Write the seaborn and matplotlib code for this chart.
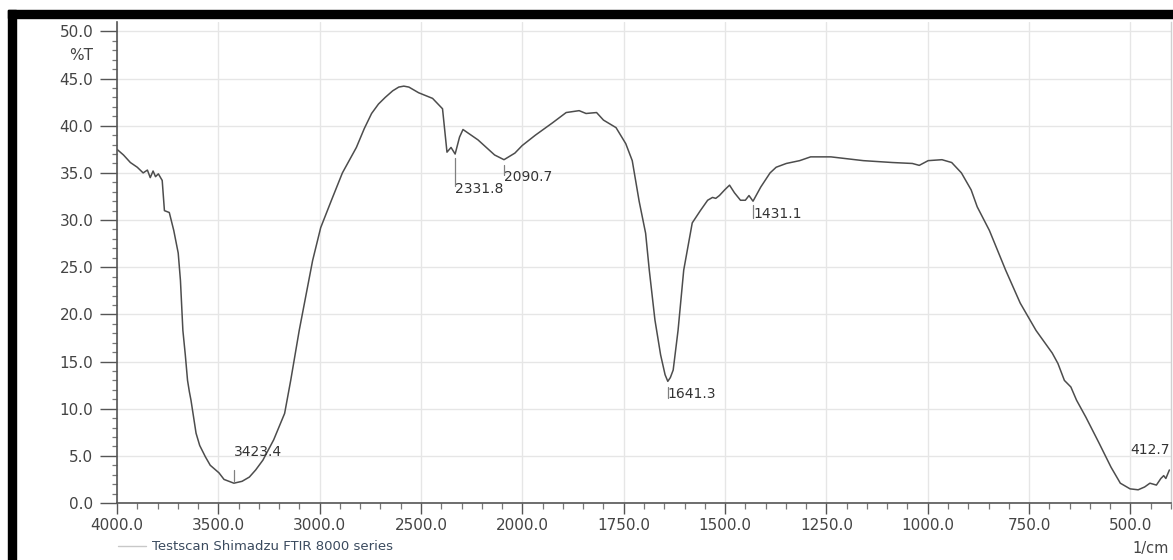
import numpy as np
import pandas as pd
import matplotlib
matplotlib.use("Agg")
import matplotlib.pyplot as plt
from matplotlib.patches import Rectangle
from matplotlib.lines import Line2D
from matplotlib.ticker import FixedLocator
import seaborn as sns

# FTIR spectrum (wavenumber in 1/cm, transmittance in %T)
wavenumber = [
    4000, 3968, 3934, 3900, 3871, 3850, 3836, 3822, 3810, 3796, 3777,
    3766, 3742, 3720, 3698, 3687, 3675, 3663, 3652, 3643, 3635, 3610,
    3592, 3564, 3540, 3497, 3472, 3423.4, 3383, 3347, 3316, 3280, 3227,
    3173, 3143, 3101, 3035, 2995, 2942, 2888, 2819, 2780, 2744, 2710,
    2677, 2640, 2610, 2585, 2560, 2512, 2443, 2394, 2372, 2352, 2331.8,
    2310, 2293, 2219, 2137, 2090.7, 2037, 2001, 1968, 1926, 1892, 1860,
    1843, 1817, 1800, 1769, 1745, 1729, 1712, 1696, 1687, 1673, 1659,
    1648, 1641.3, 1635, 1628, 1616, 1602, 1581, 1561, 1543, 1531, 1523,
    1514, 1501, 1489, 1477, 1462, 1450, 1441, 1431.1, 1412, 1389, 1374,
    1349, 1316, 1289, 1239, 1159, 1087, 1038, 1021, 999, 965, 941,
    917, 893, 878, 848, 808, 772, 733, 693, 679, 663, 647,
    633, 610, 578, 548, 525, 501, 481, 465, 452, 436, 425,
    418, 412.7, 404,
]
transmittance = [
    37.5, 36.9, 36.1, 35.6, 35.0, 35.3, 34.5, 35.2, 34.6, 34.9, 34.2,
    31.0, 30.8, 28.9, 26.5, 23.6, 18.3, 15.7, 13.0, 11.8, 10.9, 7.4,
    6.1, 4.9, 4.0, 3.2, 2.5, 2.1, 2.3, 2.75, 3.5, 4.55, 6.7,
    9.5, 13.0, 18.3, 25.7, 29.2, 32.1, 35.0, 37.7, 39.7, 41.3, 42.3,
    43.0, 43.7, 44.1, 44.2, 44.1, 43.5, 42.9, 41.8, 37.2, 37.7, 37.0,
    38.8, 39.6, 38.5, 36.9, 36.4, 37.1, 37.9, 39.0, 40.3, 41.4, 41.6,
    41.3, 41.4, 40.6, 39.8, 38.1, 36.3, 32.0, 28.6, 24.7, 19.4, 15.7,
    13.6, 12.9, 13.3, 14.1, 18.3, 24.7, 29.7, 31.0, 32.1, 32.4, 32.3,
    32.6, 33.2, 33.7, 32.9, 32.1, 32.1, 32.6, 32.0, 33.5, 35.0, 35.6,
    36.0, 36.3, 36.7, 36.7, 36.3, 36.1, 36.0, 35.8, 36.3, 36.4, 36.1,
    35.0, 33.2, 31.4, 28.9, 24.7, 21.2, 18.3, 15.9, 14.8, 13.0, 12.3,
    10.9, 9.1, 6.4, 3.8, 2.1, 1.5, 1.4, 1.7, 2.1, 1.9, 2.6,
    2.9, 2.6, 3.5,
]

# Peak annotations: wavenumber, marker line (top, bottom), label height
peak_wavenumbers = [3423.4, 2331.8, 2090.7, 1641.3, 1431.1]
peak_line_top = [2.3, 36.6, 35.8, 12.3, 31.6]
peak_line_bottom = [3.5, 33.6, 34.8, 11.1, 30.2]
peak_label_y = [5.4, 33.3, 34.6, 11.6, 30.6]
edge_peak = 412.7

x_ticks = [4000, 3500, 3000, 2500, 2000, 1750, 1500, 1250, 1000, 750, 500]
y_ticks = [0, 5, 10, 15, 20, 25, 30, 35, 40, 45, 50]

df = pd.DataFrame({"wavenumber": wavenumber, "transmittance": transmittance})


# Half-scale compression above 2000 1/cm, as on the instrument chart
def fwd(w):
    w = np.asarray(w, dtype=float)
    return np.where(w >= 2000, w / 500.0 - 8.0, w / 250.0 - 12.0)


def inv(v):
    v = np.asarray(v, dtype=float)
    return np.where(v >= -4, (v + 8.0) * 500.0, (v + 12.0) * 250.0)


sns.set_theme(style="white")
plt.rcParams["font.family"] = ["DejaVu Sans"]

W, H = 1173, 560
fig = plt.figure(figsize=(W / 100, H / 100), dpi=100)
fig.patch.set_facecolor("white")
ax = fig.add_axes([117 / W, 57 / H, (1171 - 117) / W, (503 - 22) / H])

sns.lineplot(data=df, x="wavenumber", y="transmittance", ax=ax,
             color="#4d4d4d", linewidth=1.1, estimator=None, sort=False)

ax.set_xscale("function", functions=(fwd, inv))
ax.set_xlim(4000, 400)
ax.set_ylim(0, 51)

text_color = "#444444"
ax.set_xticks(x_ticks)
ax.set_xticklabels([f"{v:.1f}" for v in x_ticks])
ax.set_yticks(y_ticks)
ax.set_yticklabels([f"{v:.1f}" for v in y_ticks])
ax.xaxis.set_minor_locator(FixedLocator(
    list(np.arange(4000, 2000, -100)) + list(np.arange(2000, 399, -50))))
ax.yaxis.set_minor_locator(FixedLocator(list(np.arange(0, 51, 1))))

ax.tick_params(axis="x", which="major", direction="out", length=8, width=1.0,
               color="#555555", pad=3, labelsize=11, labelcolor=text_color,
               bottom=True)
ax.tick_params(axis="x", which="minor", direction="out", length=4, width=0.9,
               color="#777777", bottom=True)
ax.tick_params(axis="y", which="major", direction="out", length=12, width=1.0,
               color="#555555", pad=5, labelsize=11, labelcolor=text_color,
               left=True)
ax.tick_params(axis="y", which="minor", direction="out", length=3.5,
               width=0.9, color="#777777", left=True)

ax.grid(True, which="major", color="#e6e6e6", linewidth=1.0)
ax.set_axisbelow(True)
ax.set_xlabel("")
ax.set_ylabel("")

for side in ("left", "bottom"):
    ax.spines[side].set_color("#555555")
    ax.spines[side].set_linewidth(1.2)
ax.spines["top"].set_visible(False)
ax.spines["right"].set_color("#d0d0d0")
ax.spines["right"].set_linewidth(1.0)

# %T unit label on the y axis
ax.annotate("%T", xy=(0, 47.4), xycoords=("axes fraction", "data"),
            xytext=(-17, 0), textcoords="offset points", ha="right",
            va="center", fontsize=11, color=text_color)

# Peak markers and labels
for w, t1, t2, ty in zip(peak_wavenumbers, peak_line_top, peak_line_bottom,
                         peak_label_y):
    ax.plot([w, w], [t1, t2], color="#808080", linewidth=0.9)
    ax.text(w, ty, f"{w:.1f}", ha="left", va="center", fontsize=10,
            color="#333333")
ax.text(403, 5.6, f"{edge_peak:.1f}", ha="right", va="center", fontsize=10,
        color="#333333")

# Caption and unit
fig.add_artist(Line2D([118 / W, 146 / W], [1 - 546 / H, 1 - 546 / H],
                      color="#c8c8c8", linewidth=1.0))
fig.text(152 / W, 1 - 546 / H, "Testscan Shimadzu FTIR 8000 series",
         ha="left", va="center", fontsize=9.5, color="#3a4a5e")
fig.text(1169 / W, 1 - 548 / H, "1/cm", ha="right", va="center",
         fontsize=10.5, color=text_color)

# Black frame along the top and left edges
fig.patches.append(Rectangle((8 / W, 0), 8 / W, 1 - 10 / H,
                             transform=fig.transFigure, color="black",
                             zorder=10))
fig.patches.append(Rectangle((8 / W, 1 - 18 / H), 1 - 8 / W, 8 / H,
                             transform=fig.transFigure, color="black",
                             zorder=10))

fig.savefig("out.png", dpi=100)
